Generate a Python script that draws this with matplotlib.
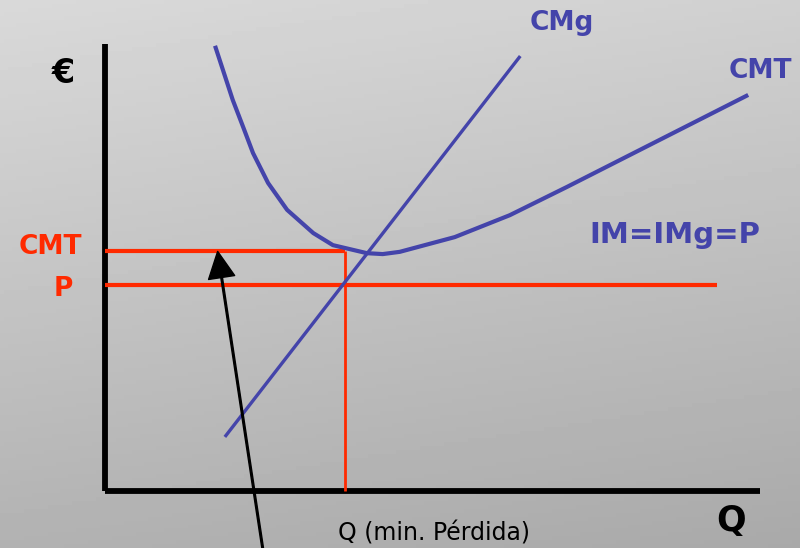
import numpy as np
import matplotlib.pyplot as plt

# cost curves (Q units, euro units)
cmt_q = [1.68, 1.95, 2.11, 2.26, 2.49, 2.78, 3.18, 3.48, 4.00, 4.24, 4.50, 5.34, 6.18, 7.05, 9.82]
cmt_y = [9.96, 8.75, 8.14, 7.56, 6.89, 6.29, 5.77, 5.50, 5.32, 5.30, 5.35, 5.68, 6.17, 6.80, 8.86]
cmg_q = [1.83, 6.34]
cmg_y = [1.21, 9.73]

q_min = 3.66      # quantity with minimum loss
cmt_level = 5.36  # average total cost at q_min
price = 4.61      # IM = IMg = P
price_end = 9.34

axis_max_q = 10.0
axis_max_y = 10.0

blue = "#4444aa"
red = "#ff2a00"

fig = plt.figure(figsize=(8, 5.48), dpi=100)

# gradient background
bg = fig.add_axes([0, 0, 1, 1])
xx, yy = np.meshgrid(np.linspace(0, 1, 200), np.linspace(0, 1, 140))
shade = (217 - 9 * xx - 39 * yy) / 255.0
bg.imshow(shade, cmap="gray", vmin=0, vmax=1, extent=[0, 1, 1, 0], aspect="auto")
bg.set_xlim(0, 1)
bg.set_ylim(1, 0)
bg.axis("off")

ax = fig.add_axes([0, 0, 1, 1])
ax.patch.set_alpha(0)
ax.set_xlim(-1.603, 10.611)
ax.set_ylim(-1.275, 10.984)
ax.axis("off")

# axes lines
ax.plot([0, 0], [0, axis_max_y], color="black", lw=4.2, solid_capstyle="butt")
ax.plot([0, axis_max_q], [0, 0], color="black", lw=4.2, solid_capstyle="butt")

# red guide lines
ax.plot([0, q_min], [cmt_level, cmt_level], color=red, lw=3, solid_capstyle="butt")
ax.plot([0, price_end], [price, price], color=red, lw=3, solid_capstyle="butt")
ax.plot([q_min, q_min], [0, cmt_level], color=red, lw=2, solid_capstyle="butt")

# cost curves
ax.plot(cmt_q, cmt_y, color=blue, lw=3, solid_capstyle="butt")
ax.plot(cmg_q, cmg_y, color=blue, lw=2.4, solid_capstyle="butt")

# arrow to the loss area
ax.annotate("", xy=(1.72, cmt_level), xytext=(2.42, -1.4),
            arrowprops=dict(facecolor="black", edgecolor="black", width=1.2,
                            headwidth=19, headlength=19, shrink=0))

bold = dict(family="DejaVu Sans", fontweight="bold")
ax.text(6.98, 10.48, "CMg", color=blue, fontsize=19, ha="center", va="center", **bold)
ax.text(10.0, 9.40, "CMT", color=blue, fontsize=19, ha="center", va="center", **bold)
ax.text(8.70, 5.73, "IM=IMg=P", color=blue, fontsize=21, ha="center", va="center", **bold)
ax.text(-0.63, 9.35, "€", color="black", fontsize=24, ha="center", va="center", **bold)
ax.text(-0.83, 5.45, "CMT", color=red, fontsize=19, ha="center", va="center", **bold)
ax.text(-0.63, 4.53, "P", color=red, fontsize=19, ha="center", va="center", **bold)
ax.text(9.56, -0.67, "Q", color="black", fontsize=25, ha="center", va="center", **bold)
ax.text(5.02, -0.96, "Q (min. Pérdida)", color="black", fontsize=17,
        ha="center", va="center", family="DejaVu Sans")

fig.savefig("out.png", dpi=100)
